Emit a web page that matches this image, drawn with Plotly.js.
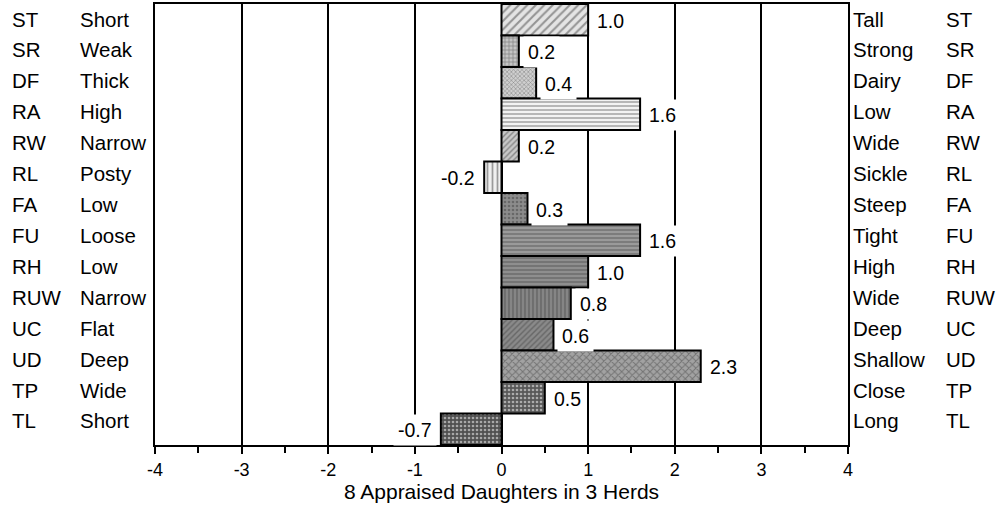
<!DOCTYPE html>
<html><head><meta charset="utf-8">
<script src="https://cdn.plot.ly/plotly-3.0.1.min.js"></script>
<style>html,body{margin:0;padding:0;background:#fff}#chart{width:997px;height:506px}</style>
</head><body><div id="chart"></div>
<script>
const codes = ["ST","SR","DF","RA","RW","RL","FA","FU","RH","RUW","UC","UD","TP","TL"];
const leftDesc = ["Short","Weak","Thick","High","Narrow","Posty","Low","Loose","Low","Narrow","Flat","Deep","Wide","Short"];
const rightDesc = ["Tall","Strong","Dairy","Low","Wide","Sickle","Steep","Tight","High","Wide","Deep","Shallow","Close","Long"];
const values = [1.0,0.2,0.4,1.6,0.2,-0.2,0.3,1.6,1.0,0.8,0.6,2.3,0.5,-0.7];
const xTicks = [-4,-3,-2,-1,0,1,2,3,4];
const xTitle = "8 Appraised Daughters in 3 Herds";

const shapes = ["/","+","x","-","/","|",".","-","-","|","/","x",".","."];
const bgs = ["#e4e4e4","#c4c4c4","#cfcfcf","#f2f2f2","#c8c8c8","#f0f0f0","#8c8c8c","#9a9a9a","#8e8e8e","#858585","#8a8a8a","#a2a2a2","#585858","#505050"];
const fgs = ["#a8a8a8","#8a8a8a","#9a9a9a","#a0a0a0","#8c8c8c","#8a8a8a","#c0c0c0","#cacaca","#c4c4c4","#b8b8b8","#bebebe","#dcdcdc","#8e8e8e","#8a8a8a"];
const sizes = [6,4,3,4,4,5,4,4,4,4,4,5,4,4];

const fam = "Liberation Sans, Arial, sans-serif";
const sideFont = {family:fam, size:20.5, color:"#000"};
const valFont = {family:fam, size:19.5, color:"#000"};
const tickFont = {family:fam, size:18, color:"#000"};
const titleFont = {family:fam, size:21, color:"#000"};

const trace = {
  type:"bar", orientation:"h", x:values, y:codes,
  marker:{color:bgs, line:{color:"#000", width:2},
    pattern:{shape:shapes, bgcolor:bgs, fgcolor:fgs, size:sizes, solidity:0.35, fillmode:"overlay"}},
  hoverinfo:"none"
};

const ann = [];
const n = codes.length;
codes.forEach((c,i)=>{
  const yp = 1 - (19 + i*30.92 - 4)/441;
  ann.push({xref:"paper", yref:"paper", x:0, y:yp, xanchor:"left", yanchor:"middle", xshift:-145, text:c, showarrow:false, font:sideFont});
  ann.push({xref:"paper", yref:"paper", x:0, y:yp, xanchor:"left", yanchor:"middle", xshift:-77, text:leftDesc[i], showarrow:false, font:sideFont});
  ann.push({xref:"paper", yref:"paper", x:1, y:yp, xanchor:"left", yanchor:"middle", xshift:3, text:rightDesc[i], showarrow:false, font:sideFont});
  ann.push({xref:"paper", yref:"paper", x:1, y:yp, xanchor:"left", yanchor:"middle", xshift:96, text:c, showarrow:false, font:sideFont});
  const v = values[i];
  ann.push({xref:"x", yref:"y", x:v, y:c, xanchor: v>=0?"left":"right", yanchor:"middle",
    xshift: v>=0?4:-4, yshift:-1, text:v.toFixed(1), showarrow:false, font:valFont,
    bgcolor:"#fff", borderpad:4});
});

const layout = {
  width:997, height:506,
  margin:{l:155, r:149, t:4, b:61},
  paper_bgcolor:"#fff", plot_bgcolor:"#fff",
  showlegend:false, bargap:0,
  font:tickFont,
  xaxis:{range:[-4,4], tickvals:xTicks, ticktext:xTicks.map(String), showgrid:true, gridcolor:"#000", gridwidth:2,
    zeroline:true, zerolinecolor:"#000", zerolinewidth:2,
    showline:true, linecolor:"#000", linewidth:2, mirror:true,
    ticks:"outside", ticklen:7, tickwidth:2, tickcolor:"#000",
    minor:{dtick:0.5, ticks:"outside", ticklen:6, tickwidth:2, tickcolor:"#000", showgrid:false},
    tickfont:tickFont, title:{text:xTitle, font:titleFont, standoff:6}},
  yaxis:{type:"category", categoryorder:"array", categoryarray:codes, range:[n-0.5,-0.5],
    showticklabels:false, ticks:"", showgrid:false, zeroline:false,
    showline:true, linecolor:"#000", linewidth:2, mirror:true},
  annotations:ann
};
Plotly.newPlot("chart",[trace],layout,{staticPlot:true});
</script></body></html>
